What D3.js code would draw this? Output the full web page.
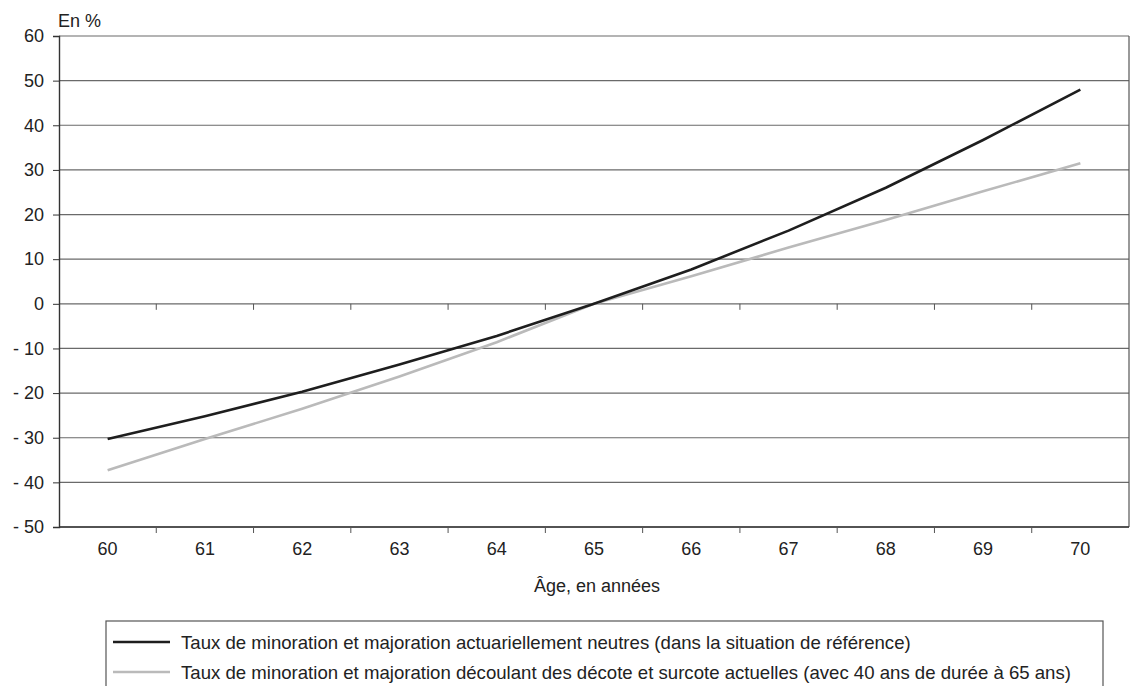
<!DOCTYPE html>
<html>
<head>
<meta charset="utf-8">
<script src="https://cdn.jsdelivr.net/npm/d3@7"></script>
<style>
  html, body { margin: 0; padding: 0; background: #fff; }
  text { font-family: "Liberation Sans", Arial, Helvetica, sans-serif; fill: #222; }
</style>
</head>
<body>
<svg id="chart" width="1133" height="686"></svg>
<script>
const ages = [60, 61, 62, 63, 64, 65, 66, 67, 68, 69, 70];
const neutralRates = [-30.3, -25.2, -19.7, -13.6, -7.2, 0, 7.7, 16.4, 26.0, 36.7, 48.0];
const currentRates = [-37.3, -30.3, -23.5, -16.3, -8.6, 0, 6.2, 12.6, 18.8, 25.2, 31.5];
const yTicks = [60, 50, 40, 30, 20, 10, 0, -10, -20, -30, -40, -50];
const seriesNames = [
  "Taux de minoration et majoration actuariellement neutres (dans la situation de référence)",
  "Taux de minoration et majoration découlant des décote et surcote actuelles (avec 40 ans de durée à 65 ans)"
];
const yUnit = "En %";
const xTitle = "Âge, en années";

(function () {
const svg = d3.select("#chart");
const pL = 59, pR = 1129, pT = 36, pB = 527;
const fs = "18px";

const x = d3.scaleBand().domain(ages).range([pL, pR]).paddingInner(0).paddingOuter(0);
const y = d3.scaleLinear().domain([-50, 60]).range([pB, pT]);
const xc = d => x(d) + x.bandwidth() / 2;

// gridlines
svg.append("g").selectAll("line").data(yTicks).join("line")
  .attr("x1", pL).attr("x2", pR)
  .attr("y1", d => y(d)).attr("y2", d => y(d))
  .attr("stroke", "#6a6a6a").attr("stroke-width", 1.2);

// frame right edge
svg.append("line").attr("x1", pR).attr("x2", pR).attr("y1", pT).attr("y2", pB)
  .attr("stroke", "#555").attr("stroke-width", 1.2);

// y axis
const yAxis = d3.axisLeft(y).tickValues(yTicks).tickSize(6).tickPadding(9)
  .tickFormat(d => d < 0 ? "- " + Math.abs(d) : String(d));
const gy = svg.append("g").attr("transform", `translate(${pL},0)`).call(yAxis);
gy.select(".domain").attr("stroke", "#333").attr("stroke-width", 1.4);
gy.selectAll(".tick line").attr("stroke", "#333");
gy.selectAll(".tick text").style("font-size", fs).style("font-family", "'Liberation Sans', Arial, sans-serif").attr("fill", "#222");

// bottom axis line
svg.append("line").attr("x1", pL).attr("x2", pR).attr("y1", pB).attr("y2", pB)
  .attr("stroke", "#333").attr("stroke-width", 1.4);

// boundary ticks on zero line and bottom
const bounds = ages.slice(1).map(a => x(a));
[y(0), pB].forEach(yy => {
  svg.append("g").selectAll("line").data(bounds).join("line")
    .attr("x1", d => d).attr("x2", d => d)
    .attr("y1", yy).attr("y2", yy + 6)
    .attr("stroke", "#555").attr("stroke-width", 1);
});

// x labels
svg.append("g").selectAll("text").data(ages).join("text")
  .attr("x", d => xc(d)).attr("y", 555)
  .attr("text-anchor", "middle").style("font-size", fs).text(d => d);

// axis titles
svg.append("text").attr("x", 58).attr("y", 27).style("font-size", fs).text(yUnit);
svg.append("text").attr("x", 597).attr("y", 592).attr("text-anchor", "middle")
  .style("font-size", fs).text(xTitle);

// lines
const line = d3.line().x((d, i) => xc(ages[i])).y(d => y(d));
const colors = ["#1e1e1e", "#bababa"];
[currentRates, neutralRates].forEach((s, k) => {
  svg.append("path").datum(s).attr("d", line)
    .attr("fill", "none").attr("stroke", colors[1 - k]).attr("stroke-width", 2.6)
    .attr("stroke-linejoin", "round");
});

// legend
const lg = svg.append("g");
lg.append("rect").attr("x", 106).attr("y", 621).attr("width", 997).attr("height", 80)
  .attr("fill", "none").attr("stroke", "#555").attr("stroke-width", 1.2);
seriesNames.forEach((n, i) => {
  const yy = 642 + i * 30;
  lg.append("line").attr("x1", 113).attr("x2", 170).attr("y1", yy).attr("y2", yy)
    .attr("stroke", colors[i]).attr("stroke-width", 2.6);
  lg.append("text").attr("x", 181).attr("y", yy).attr("dy", "0.35em")
    .style("font-size", "18.6px").text(n);
});
})();
</script>
</body>
</html>
